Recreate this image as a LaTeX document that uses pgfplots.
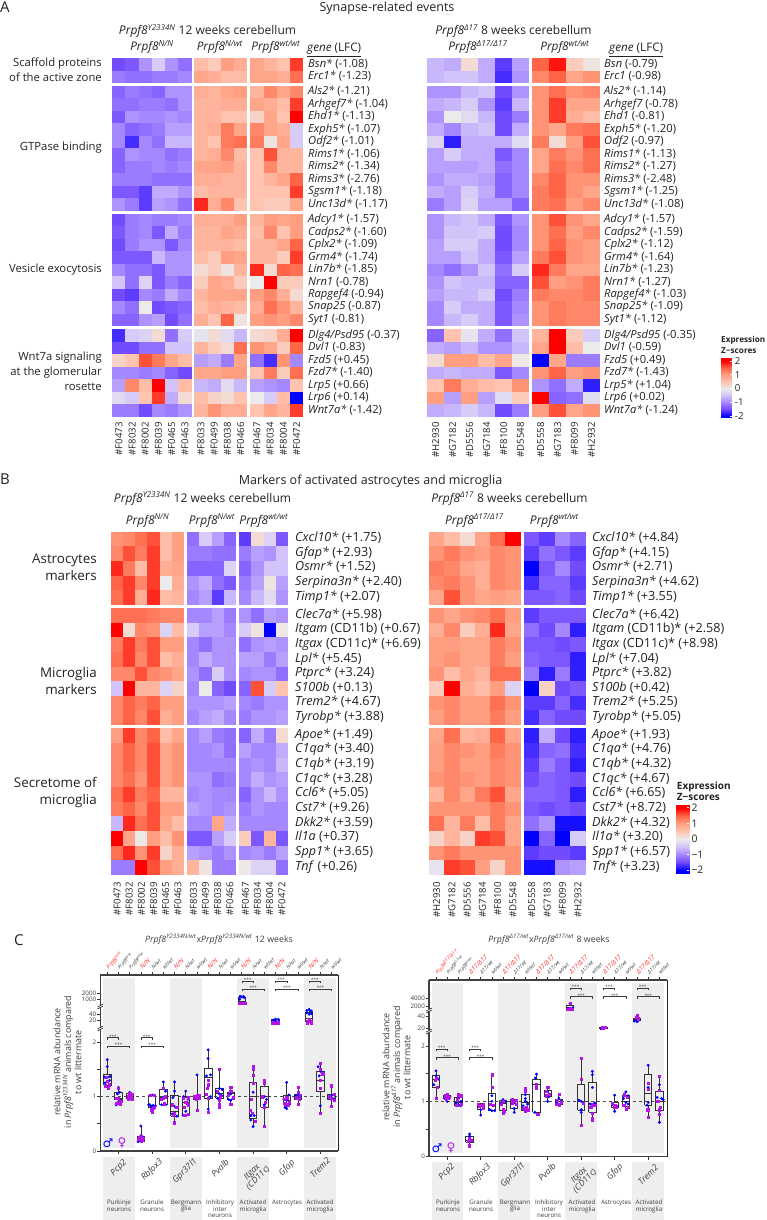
\documentclass[border=0pt]{standalone}
\usepackage{fontspec}
\setmainfont{Open Sans}
\newfontfamily\symfont{DejaVu Sans}
\usepackage{pgfplots}
\usepackage{pgfplotstable}
\pgfplotsset{compat=1.18}

\newcommand\fs[1]{\fontsize{#1}{#1}\selectfont}
\newcommand\Pf[1]{\textit{Prpf8}\textsuperscript{\textit{#1}}}
\definecolor{txt}{HTML}{222222}
\definecolor{ctxt}{HTML}{3C3C3C}
\definecolor{band}{HTML}{EEEEEE}
\definecolor{male}{HTML}{0000FF}
\definecolor{fem}{HTML}{B414E6}
\definecolor{redl}{HTML}{FF2A2A}

\pgfplotsset{colormap={zs}{rgb255=(0,0,255) rgb255=(115,75,255) rgb255=(165,135,255) rgb255=(210,195,250)
  rgb255=(235,235,235) rgb255=(255,195,175) rgb255=(255,158,129) rgb255=(255,100,70) rgb255=(255,0,0)}}

\pgfdeclareplotmark{cell}{\pgfpathrectangle{\pgfqpoint{-5pt}{-5pt}}{\pgfqpoint{10pt}{10pt}}\pgfusepathqfill}
\pgfplotsset{cell/.style={scatter,only marks,mark=cell,point meta=explicit}}

% --- A left, Prpf8 Y2334N 12 weeks
\pgfplotstableread{
gene y s0 s1 s2 s3 s4 s5 s6 s7 s8 s9 s10 s11 s12 s13
Bsn 64.5 -1.5 -1.4 -.9 -.4 -.9 -1.2 .6 .4 1.0 .8 .9 .7 .5 1.7
Erc1 77 -1.1 -1.2 -1.2 -1.1 -1.1 -1.0 .9 .8 .6 .6 .9 .9 .8 1.4
Als2 92.2 -1.3 -1.1 -1.2 -1.3 -.9 -.9 .8 .7 .9 1.0 .7 1.2 .9 1.2
Arhgef7 104.7 -1.2 -1.2 -1.1 -1.1 -1.2 -.9 .7 .7 .8 .8 .9 .8 .6 1.7
Ehd1 117.2 -1.4 -.9 -1.0 -1.0 -.9 -1 .7 .7 .5 .5 .3 .9 .5 2
Exph5 129.6 -1 -1.3 -1.2 -1.1 -.8 -.8 .7 .8 1.3 .9 1.2 .9 .8 -.4
Odf2 142.1 -1 -1.7 -1 -1.2 -.6 -.6 .7 .5 1.3 1.4 1.3 .1 .9 -.4
Rims1 154.6 -1.3 -.9 -1 -1 -1.2 -1.1 .7 .8 1.2 .6 .5 1.6 .7 .7
Rims2 167.1 -1.3 -1.1 -1.1 -1 -1.1 -1 .9 .9 1 .7 .5 1.2 .7 .7
Rims3 179.5 -1.1 -1.1 -1.1 -1.2 -1.2 -1.2 .8 .8 .7 .7 .5 .7 .9 1.5
Sgsm1 192 -1.4 -1.4 -1.6 -.7 -.7 -.9 .6 .7 .7 .7 .5 .5 .5 1.7
Unc13d 204.5 -.9 -1.1 -1.6 -.8 -.9 -1.2 1.8 .8 1.2 .5 .5 .4 .4 .9
Adcy1 220.2 -1.5 -1.1 -1 -1.1 -1.1 -1 .8 .8 .8 1 .7 1 .9 1
Cadps2 232.7 -1.4 -1.1 -1 -1.4 -.7 -1.1 .7 .7 .9 .8 .6 1.2 .5 1
Cplx2 245.1 -1.5 -1.1 -.9 -.9 -1.4 -1 .7 .7 .7 .6 .7 .7 .9 1.5
Grm4 257.5 -1.4 -1.4 -1.4 -.6 -.9 -.9 .6 .4 1 .9 .7 .7 .4 1.7
Lin7b 270 -1 -1.2 -1.2 -1.4 -.9 -.9 .2 .4 .1 .7 1.8 .2 1.5 1.4
Nrn1 282.4 -.5 -1.2 -.3 -1.4 -1.1 -1.3 .4 .9 .8 .4 0 2 .4 .4
Rapgef4 294.9 -1.5 -1.6 -1 -1.1 -.7 -1 .7 .9 .9 .9 1 1.2 .8 .2
Snap25 307.3 -1 -1.2 0 -1.5 -1.4 -1.3 .6 .8 .7 .6 .8 1.4 1.1 .7
Syt1 319.8 -1.3 -1.3 -.9 -.8 -1.5 -1.2 .8 .5 1.5 .1 1 1.1 1 1.2
Dlg4 335.5 -1.7 -.4 -.3 .2 -1.2 -.4 -.1 .2 -.2 -.6 .2 .3 .8 2
Dvl1 348 -1.5 -1.5 -1.2 -1.2 -.5 -.5 .7 .4 .2 1.4 1.1 .9 .4 1.5
Fzd5 360.5 .3 .5 1.6 1.3 .9 .6 -.8 -.7 -1.1 .9 -1.2 -1.7 1.1 -1
Fzd7 373 -1 -1 -1.1 -1 -1.3 -1.5 .9 .9 1 1 .5 1.3 .4 1.4
Lrp5 385.4 -.8 1.2 .6 2 -.5 .6 -.6 -.7 -.2 -.6 -.8 -.9 -1 .5
Lrp6 397.9 -.2 -.4 .5 1.7 -.7 .2 .6 .3 .2 .5 0 -.4 .6 -2
Wnt7a 410.4 -1.1 -1.1 -1.5 -1 -1.1 -.9 .7 1.1 .8 .8 .5 .9 .7 1.7
}\tabAL
% --- A right, Prpf8 d17 8 weeks
\pgfplotstableread{
gene y s0 s1 s2 s3 s4 s5 s6 s7 s8 s9
Bsn 64.5 -.6 -.7 .2 -.7 -1.6 -.8 1.5 1.9 .4 .1
Erc1 77 -.6 -.5 -.5 -.7 -1.7 -.9 1.2 1.5 .9 1.1
Als2 92.2 -.9 -.9 -.6 -.5 -1.5 -.9 1.1 1.4 1.1 1.2
Arhgef7 104.7 -.7 -.6 -.4 -.9 -1.6 -.6 1.1 1.7 .9 .9
Ehd1 117.2 -.9 0 -.2 -.6 -1.5 -1.1 1.1 1.7 .8 .6
Exph5 129.6 -.7 -1 -.6 -.5 -1.5 -.7 1.1 .9 1.3 1.4
Odf2 142.1 -.3 -1.8 -.7 -.7 -.7 -.2 1.3 .2 1 1.6
Rims1 154.6 -.8 -.4 -.7 -.7 -1.4 -1 .9 1.3 1.1 1.4
Rims2 167.1 -.8 -.8 -.8 -.7 -1.2 -1 .9 1.4 1.2 1.4
Rims3 179.5 -.9 -.7 -.7 -.8 -1.3 -1 1.2 1.5 1.1 1.1
Sgsm1 192 -.7 -.8 -.4 -.7 -1.3 -1 1.3 1.5 1.1 .9
Unc13d 204.5 -1.1 -.8 -.3 -.8 -.8 -1.3 1.3 1.4 1 1.2
Adcy1 220.2 -.9 -.6 -.5 -.7 -1.4 -.9 1.1 1.6 1.1 .9
Cadps2 232.7 -.9 -.5 -.5 -.4 -1.5 -1 1.1 1.4 1 1.2
Cplx2 245.1 -.8 -.4 -.4 -.7 -1.5 -1 1.1 1.5 1.1 1
Grm4 257.5 -.8 -.8 -.5 -.7 -1.4 -.8 1.3 1.6 1.1 1
Lin7b 270 -1 -1.2 -.9 -.5 -1.2 -.4 1.8 1.3 .9 .9
Nrn1 282.4 -.9 -.5 -.6 -.6 -1.3 -1.3 1.6 1 1.1 1.3
Rapgef4 294.9 -.8 -.6 -.6 -.4 -1.5 -1.1 1.3 1.2 1.2 1.3
Snap25 307.3 -1 -.4 -.7 -.7 -1.4 -1 1.1 1.3 1.2 1.2
Syt1 319.8 -1 -.6 -.4 -.7 -1.4 -.9 1.1 1.3 1.2 1.2
Dlg4 335.5 -1.3 .5 -.1 -.7 -1.2 -.5 .7 2 .4 -.4
Dvl1 348 -.7 -.8 -.6 -.9 -.9 -.6 .9 2 .6 0
Fzd5 360.5 .2 1 1 .6 .9 .05 -2 .9 -1.1 -1.1
Fzd7 373 -.7 -.6 -.7 -.7 -1.4 -1 1.1 1.5 1 1.1
Lrp5 385.4 .5 1.3 .8 .6 .5 1.1 -.9 -1.2 -.7 -1.8
Lrp6 397.9 1 -.8 1 -.8 -.2 .4 2 -1.3 -1.2 -.2
Wnt7a 410.4 -.7 -.6 -.4 -.6 -1.5 -1.1 1 1.6 .9 1.1
}\tabAR
% --- B left
\pgfplotstableread{
gene y s0 s1 s2 s3 s4 s5 s6 s7 s8 s9 s10 s11 s12 s13
Cxcl10 539 1.1 1.2 1.4 1.6 .6 1 -1.2 -.4 -.8 -1.3 -1.6 .2 -.3 -1.4
Gfap 553.7 1.2 1.6 1.3 1.7 .6 1 -1.1 -1.1 -1.2 -1.2 -1.1 -.8 -.9 -.5
Osmr 568.3 1.8 1.3 .6 1.7 .8 .9 -1.3 -1.3 -1.3 -.3 -1.3 -.9 -.5 -.5
Serpina3n 583 1.5 1.7 1.2 1.7 0 .8 -.9 -.7 -1.2 -1.4 -1.1 -.8 .1 -.8
Timp1 597.7 1.4 1.7 .8 1.8 .6 .7 -1 -.8 -1.6 -.6 -1 -.6 -.2 -.9
Clec7a 615.6 1.4 1.4 1.4 1.3 1.2 1.2 -1 -1 -.8 -1.1 -.9 -1.2 -.8 -.9
Itgam 630.2 2 .2 1.2 1.1 -.3 .6 -.4 -.8 -.8 -1 -.4 .1 -2 .05
Itgax 644.8 1.3 1.7 1.3 1.6 1 1 -1 -1.2 -.9 -.9 -1.2 -.9 -.8 -.9
Lpl 659.4 1.4 1.7 1.2 1.6 .6 .8 -1 -.7 -.9 -.9 -.8 -.8 -1.1 -.8
Ptprc 674 1.2 1.2 1.6 1.2 1.1 .9 -.9 -1.2 -.4 -.9 -1 -.9 -.9 -1.2
S100b 688.6 -.5 2 .7 .7 -.3 .3 -1 0 -1.3 -1.5 -1.3 1.6 -.4 .5
Trem2 703.2 1.2 1.5 1.3 1.5 1 1 -.9 -.9 -.9 -.8 -1 -1.1 -.9 -.9
Tyrobp 717.8 1.2 1.5 1.2 1.6 .8 1 -1 -.8 -.7 -1 -1.1 -.9 -.9 -.8
Apoe 735.6 1 1.7 1.2 1.5 .6 .9 -1 -.8 -1.1 -1.2 -1.3 -.7 -1.1 .2
C1qa 750.3 1.2 1.5 1.2 1.6 .9 1.1 -1 -1 -.9 -1.2 -.8 -1 -1 -.7
C1qb 765 1.2 1.5 1.2 1.6 .9 1.1 -1 -1 -1 -1 -1 -.9 -1 -.6
C1qc 779.7 1.2 1.4 1.1 1.6 .9 1.1 -.9 -.9 -1.2 -1.1 -1 -.7 -.9 -.8
Ccl6 794.3 1.4 1.7 1.3 1.5 .7 .7 -1 -.9 -1 -1 -1.3 -.9 -.6 -.9
Cst7 809 1.3 1.5 1.2 1.6 1 1 -.8 -.9 -1 -.9 -1.1 -.9 -1 -1
Dkk2 823.7 -.6 1.8 1.4 1.6 .9 .6 -1 -1 .9 -.7 -1 -1 -1 -1
Il1a 838.3 2 .9 .05 1 .6 1.1 -1.4 -1.4 -.8 -.4 .4 -1.4 .7 -1.4
Spp1 853 1.4 1.8 1.1 1.7 .3 .8 -.8 -.9 -1.1 -.9 -1 -.9 -1.1 -.8
Tnf 867.7 -1.1 -1.1 2 1.6 1 .8 .7 .1 -1.1 -1.1 .05 -.3 -.3 -1.2
}\tabBL
% --- B right
\pgfplotstableread{
gene y s0 s1 s2 s3 s4 s5 s6 s7 s8 s9
Cxcl10 539 .9 .6 .2 .9 1.4 2 -1.4 -1.6 -1 -1.3
Gfap 553.7 1.1 1.3 1.1 1 1.2 1.1 -1.6 -1.2 -1.4 -1.6
Osmr 568.3 1.3 1.2 .9 .8 1.2 1.1 -2 -1.4 -1 -1.5
Serpina3n 583 1.2 1.3 1.1 .8 1.2 1.1 -1.7 -1.3 -1.3 -1.6
Timp1 597.7 .9 1.6 1.1 .9 1 .9 -1.4 -1.4 -1.3 -1.5
Clec7a 615.6 1.1 .9 1.1 1.2 1.4 1 -1.6 -1.4 -1.4 -1.4
Itgam 630.2 .8 1.2 .4 .8 1.8 .9 -1.2 -1.5 -1 -1.8
Itgax 644.8 1 1 .9 .9 1.3 1.1 -1.4 -1.4 -1.5 -1.4
Lpl 659.4 1 1.1 .9 .9 1.3 1 -1.3 -1.4 -1.4 -1.8
Ptprc 674 1.1 .6 .9 .7 1.4 1.4 -1.1 -1.8 -1.1 -1.8
S100b 688.6 .4 2 .8 .6 1 -.3 -2 .3 -1.5 -1.4
Trem2 703.2 1.1 1.2 1 1 1.4 1.1 -1.6 -1.6 -1.3 -1.7
Tyrobp 717.8 1 1.2 1 1 1.3 1 -1.7 -1.3 -1.5 -1.5
Apoe 735.6 .9 1.4 .7 .8 1.5 .9 -1.8 -.7 -1.5 -1.8
C1qa 750.3 1 1.2 1.1 1 1.3 1.1 -1.7 -1.3 -1.2 -1.7
C1qb 765 1 1.2 1 1 1.2 1.1 -1.6 -1.1 -1.4 -1.8
C1qc 779.7 1.1 1.2 1.1 1 1.2 1.1 -1.5 -1.3 -1.4 -1.5
Ccl6 794.3 .7 1.2 .9 1.3 1.6 .9 -1.3 -1.3 -1.4 -1.8
Cst7 809 1.1 1.1 1.1 1.1 1.3 1.1 -1.4 -1.5 -1.4 -1.5
Dkk2 823.7 1.4 .7 1.3 .6 1.3 .9 -1.2 -.9 -1.9 -1.9
Il1a 838.3 .3 .7 .3 1.7 1.6 .9 -2 -1.3 -2 -.4
Spp1 853 1.1 1.3 1.1 1.1 1.1 1.1 -1.6 -1.5 -1.5 -1.6
Tnf 867.7 -.1 1.7 1.6 1 .3 1.1 -1.9 -1.9 -.9 -.8
}\tabBR

% one heat block: table, first sample, last sample, left x, cell w, cell h
\newcommand\hblock[6]{\pgfplotsinvokeforeach{#2,...,#3}{%
  \addplot[cell,mark options={xscale=#5/10+.008,yscale=#6/10+.008}]
    table[x expr={#4+#5*(##1-#2+.5)},y=y,meta=s##1] {#1};}}

\newcommand\samples[4]{\foreach \t [count=\i from 0] in {#4}{%
  \node[rotate=90,anchor=east,inner sep=0,text=txt,font=\fs{9.6}] at ({#1+#2*(\i+.5)},#3) {\t};}}
\newcommand\genes[3][11.2]{\foreach \yy/\t in {#3}{%
  \node[anchor=mid west,inner sep=0,text=txt,font=\fs{#1}] at (#2,\yy) {\t};}}
\newcommand\T[4][]{\node[inner sep=0,text=txt,anchor=base,#1] at (#2,#3) {#4};}
\newcommand\R[4][11.3]{\node[inner sep=0,text=txt,anchor=mid east,font=\fs{#1}] at (#2,#3) {#4};}
\newcommand\brk[5]{\draw[line width=.5pt,color=ctxt] ({#1+#2*#3},#5+2)--({#1+#2*#3},#5)--({#1+#2*#4},#5)--({#1+#2*#4},#5+2);
  \node[inner sep=0,text=ctxt,font=\fs{4.5}] at ({#1+#2*(#3+#4)/2},#5-1.3) {***};}
\newcommand\Ctop[7]{\foreach \i in {#5}{%
  \node[rotate=45,anchor=west,inner sep=0,text=redl,font=\fs{6.4}] at ({#1+#2*\i},#3) {\textit{#4}};
  \node[rotate=45,anchor=west,inner sep=0,text=ctxt,font=\fs{5.2}] at ({#1+#2*(\i+1)},#3) {\textit{#6}};
  \node[rotate=45,anchor=west,inner sep=0,text=ctxt,font=\fs{5.2}] at ({#1+#2*(\i+2)},#3) {\textit{#7}};}}

% box with whiskers: position, low whisker, lower quartile, median, upper quartile, high whisker
\newcommand\bx[6]{\pgfmathsetmacro\xl{#1-.33}\pgfmathsetmacro\xr{#1+.33}%
  \edef\tmp{\noexpand\addplot[bxl] coordinates {(\xl,#3)(\xr,#3)(\xr,#5)(\xl,#5)(\xl,#3)};
    \noexpand\addplot[bxl] coordinates {(\xl,#4)(\xr,#4)};
    \noexpand\addplot[bxl] coordinates {(#1,#2)(#1,#3)};
    \noexpand\addplot[bxl] coordinates {(#1,#5)(#1,#6)};}\tmp}

\pgfplotsset{
  bxl/.style={color=black!80,line width=.8pt,solid,no marks},
  mm/.style={only marks,mark=*,mark size=1.25pt,color=male},
  ff/.style={only marks,mark=square*,mark size=1.1pt,color=fem},
  cax/.style={scale only axis,anchor=south west,clip=false,axis y line*=left,
     axis line style={line width=1.3pt,color=black!75},tick align=outside,
     major tick length=3pt,minor tick length=0pt,
     tick style={line width=.7pt,color=black!80},
     yticklabel style={font=\fs{6.2},text=ctxt,inner sep=1pt},
     xticklabels={},scaled y ticks=false},
  cbar/.style={scale only axis,anchor=south west,view={0}{90},xmin=0,xmax=1,xtick=\empty,
     ytick={-2,-1,0,1,2},tick pos=right,yticklabel pos=right,tick align=inside,
     ytick style={white,line width=.7pt,draw=white},major tick length=2.5pt,
     axis line style={draw=none},axis on top,colormap name=zs,point meta min=-2,point meta max=2,
     point meta=y,yticklabel style={font=\fs{9.6},text=txt,inner sep=1pt,xshift=1pt}},
}

\begin{document}
\begin{tikzpicture}
\path[use as bounding box] (0,0) rectangle (767pt,-1220pt);

% grey bands of panel C
\begin{scope}[x=1pt,y=-1pt]
\foreach \a/\b in {102.7/135,170/201.7,237/268.7,304/335.7}{
  \fill[band] (\a,977.7) rectangle (\b,1148.3);
  \fill[band] (\a,1157.3) rectangle (\b,1220);}
\foreach \a/\b in {431.7/463.3,497.7/530,565/596.7,632/664}{
  \fill[band] (\a,982.7) rectangle (\b,1153.3);
  \fill[band] (\a,1162.3) rectangle (\b,1220);}
\end{scope}

% heatmaps, in picture pixels
\begin{axis}[at={(0pt,-1220pt)},anchor=south west,scale only axis,width=767pt,height=1220pt,
  xmin=0,xmax=767,ymin=0,ymax=1220,y dir=reverse,hide axis,clip=false,
  colormap name=zs,point meta min=-2,point meta max=2]
\hblock{\tabAL}{0}{5}{112.3}{13.2}{12.47}
\hblock{\tabAL}{6}{9}{194.3}{13.25}{12.47}
\hblock{\tabAL}{10}{13}{250.3}{13.25}{12.47}
\hblock{\tabAR}{0}{5}{427.3}{16.95}{12.47}
\hblock{\tabAR}{6}{9}{532.3}{16.9}{12.47}
\hblock{\tabBL}{0}{5}{111}{12.17}{14.65}
\hblock{\tabBL}{6}{9}{187.3}{12.17}{14.65}
\hblock{\tabBL}{10}{13}{239.3}{12.17}{14.65}
\hblock{\tabBR}{0}{5}{429}{15.28}{14.65}
\hblock{\tabBR}{6}{9}{524}{15.4}{14.65}
\end{axis}

\begin{scope}[x=1pt,y=-1pt]
% white lines between the blocks
\fill[white] (100,83.4) rectangle (610,86); \fill[white] (100,210.8) rectangle (610,214); \fill[white] (100,326.1) rectangle (610,329.3);
\fill[white] (100,605.1) rectangle (600,608.3); \fill[white] (100,725.1) rectangle (600,728.3);
\fill[white] (191.7,50) rectangle (194.3,420); \fill[white] (247.4,50) rectangle (250.3,420); \fill[white] (529.1,50) rectangle (532.3,420);
\fill[white] (184.1,525) rectangle (187.3,880); \fill[white] (236.1,525) rectangle (239.3,880); \fill[white] (520.7,525) rectangle (524,880);

% panel titles
\T[font=\fs{15},anchor=base west]{0}{13}{A}
\T[font=\fs{15},anchor=base west]{0}{484}{B}
\T[font=\fs{15},anchor=base west]{14}{945}{C}
\T[font=\fs{12.5}]{387}{12}{Synapse-related events}
\T[font=\fs{12.5}]{370.5}{484}{Markers of activated astrocytes and microglia}

% panel A headers
\T[font=\fs{12}]{207.5}{35}{\Pf{Y2334N} 12 weeks cerebellum}
\T[font=\fs{11.8}]{152}{51}{\Pf{N/N}}
\T[font=\fs{11.8}]{220}{51}{\Pf{N/wt}}
\T[font=\fs{11.8}]{276}{51}{\Pf{wt/wt}}
\T[font=\fs{11.7},anchor=base west]{307}{52}{\underline{\textit{gene} (LFC)}}
\T[font=\fs{12}]{513.5}{35}{\Pf{Δ17} 8 weeks cerebellum}
\T[font=\fs{11.8}]{478}{51}{\Pf{Δ17/Δ17}}
\T[font=\fs{11.8}]{565}{51}{\Pf{wt/wt}}
\T[font=\fs{11.7},anchor=base west]{609}{52}{\underline{\textit{gene} (LFC)}}

\R{102}{64}{Scaffold proteins}
\R{102}{79}{of the active zone}
\R{102}{148}{GTPase binding}
\R{102}{270}{Vesicle exocytosis}
\R{102}{358}{Wnt7a signaling}
\R{102}{373}{at the glomerular}
\R{102}{388}{rosette}

\genes{308}{64.5/{\textit{Bsn*} (-1.08)},77/{\textit{Erc1*} (-1.23)},92.2/{\textit{Als2*} (-1.21)},104.7/{\textit{Arhgef7*} (-1.04)},117.2/{\textit{Ehd1*} (-1.13)},129.6/{\textit{Exph5*} (-1.07)},142.1/{\textit{Odf2*} (-1.01)},154.6/{\textit{Rims1*} (-1.06)},167.1/{\textit{Rims2*} (-1.34)},179.5/{\textit{Rims3*} (-2.76)},192/{\textit{Sgsm1*} (-1.18)},204.5/{\textit{Unc13d*} (-1.17)},220.2/{\textit{Adcy1*} (-1.57)},232.7/{\textit{Cadps2*} (-1.60)},245.1/{\textit{Cplx2*} (-1.09)},257.5/{\textit{Grm4*} (-1.74)},270/{\textit{Lin7b*} (-1.85)},282.4/{\textit{Nrn1} (-0.78)},294.9/{\textit{Rapgef4} (-0.94)},307.3/{\textit{Snap25} (-0.87)},319.8/{\textit{Syt1} (-0.81)},335.5/{\textit{Dlg4/Psd95} (-0.37)},348/{\textit{Dvl1} (-0.83)},360.5/{\textit{Fzd5} (+0.45)},373/{\textit{Fzd7*} (-1.40)},385.4/{\textit{Lrp5} (+0.66)},397.9/{\textit{Lrp6} (+0.14)},410.4/{\textit{Wnt7a*} (-1.42)}}
\genes{604}{64.5/{\textit{Bsn} (-0.79)},77/{\textit{Erc1} (-0.98)},92.2/{\textit{Als2*} (-1.14)},104.7/{\textit{Arhgef7} (-0.78)},117.2/{\textit{Ehd1} (-0.81)},129.6/{\textit{Exph5*} (-1.20)},142.1/{\textit{Odf2} (-0.97)},154.6/{\textit{Rims1*} (-1.13)},167.1/{\textit{Rims2*} (-1.27)},179.5/{\textit{Rims3*} (-2.48)},192/{\textit{Sgsm1*} (-1.25)},204.5/{\textit{Unc13d*} (-1.08)},220.2/{\textit{Adcy1*} (-1.57)},232.7/{\textit{Cadps2*} (-1.59)},245.1/{\textit{Cplx2*} (-1.12)},257.5/{\textit{Grm4*} (-1.64)},270/{\textit{Lin7b*} (-1.23)},282.4/{\textit{Nrn1*} (-1.27)},294.9/{\textit{Rapgef4*} (-1.03)},307.3/{\textit{Snap25*} (-1.09)},319.8/{\textit{Syt1*} (-1.12)},335.5/{\textit{Dlg4/Psd95} (-0.35)},348/{\textit{Dvl1} (-0.59)},360.5/{\textit{Fzd5} (+0.49)},373/{\textit{Fzd7*} (-1.43)},385.4/{\textit{Lrp5*} (+1.04)},397.9/{\textit{Lrp6} (+0.02)},410.4/{\textit{Wnt7a*} (-1.24)}}

\samples{112.3}{13.2}{422}{\#F0473,\#F8032,\#F8002,\#F8039,\#F0465,\#F0463}
\samples{194.3}{13.25}{422}{\#F8033,\#F0499,\#F8038,\#F0466}
\samples{250.3}{13.25}{422}{\#F0467,\#F8034,\#F8004,\#F0472}
\samples{427.3}{16.95}{422}{\#H2930,\#G7182,\#D5556,\#G7184,\#F8100,\#D5548}
\samples{532.3}{16.9}{422}{\#D5558,\#G7183,\#F8099,\#H2932}

% panel B headers
\T[font=\fs{12}]{202.5}{502}{\Pf{Y2334N} 12 weeks cerebellum}
\T[font=\fs{12}]{147.5}{524}{\Pf{N/N}}
\T[font=\fs{12}]{212}{524}{\Pf{N/wt}}
\T[font=\fs{12}]{264}{524}{\Pf{wt/wt}}
\T[font=\fs{12}]{509.5}{502}{\Pf{Δ17} 8 weeks cerebellum}
\T[font=\fs{12}]{474.5}{524}{\Pf{Δ17/Δ17}}
\T[font=\fs{12}]{554.5}{524}{\Pf{wt/wt}}

\R[13.4]{97}{561}{Astrocytes}
\R[13.4]{97}{578}{markers}
\R[13.4]{97}{675}{Microglia}
\R[13.4]{97}{692}{markers}
\R[13.4]{97}{785}{Secretome of}
\R[13.4]{97}{802}{microglia}

\genes[12.6]{295}{539/{\textit{Cxcl10*} (+1.75)},553.7/{\textit{Gfap*} (+2.93)},568.3/{\textit{Osmr*} (+1.52)},583/{\textit{Serpina3n*} (+2.40)},597.7/{\textit{Timp1*} (+2.07)},615.6/{\textit{Clec7a*} (+5.98)},630.2/{\textit{Itgam} (CD11b) (+0.67)},644.8/{\textit{Itgax} (CD11c)* (+6.69)},659.4/{\textit{Lpl*} (+5.45)},674/{\textit{Ptprc*} (+3.24)},688.6/{\textit{S100b} (+0.13)},703.2/{\textit{Trem2*} (+4.67)},717.8/{\textit{Tyrobp*} (+3.88)},735.6/{\textit{Apoe*} (+1.49)},750.3/{\textit{C1qa*} (+3.40)},765/{\textit{C1qb*} (+3.19)},779.7/{\textit{C1qc*} (+3.28)},794.3/{\textit{Ccl6*} (+5.05)},809/{\textit{Cst7*} (+9.26)},823.7/{\textit{Dkk2*} (+3.59)},838.3/{\textit{Il1a} (+0.37)},853/{\textit{Spp1*} (+3.65)},867.7/{\textit{Tnf} (+0.26)}}
\genes[12.6]{592}{539/{\textit{Cxcl10*} (+4.84)},553.7/{\textit{Gfap*} (+4.15)},568.3/{\textit{Osmr*} (+2.71)},583/{\textit{Serpina3n*} (+4.62)},597.7/{\textit{Timp1*} (+3.55)},615.6/{\textit{Clec7a*} (+6.42)},630.2/{\textit{Itgam} (CD11b)* (+2.58)},644.8/{\textit{Itgax} (CD11c)* (+8.98)},659.4/{\textit{Lpl*} (+7.04)},674/{\textit{Ptprc*} (+3.82)},688.6/{\textit{S100b} (+0.42)},703.2/{\textit{Trem2*} (+5.25)},717.8/{\textit{Tyrobp*} (+5.05)},735.6/{\textit{Apoe*} (+1.93)},750.3/{\textit{C1qa*} (+4.76)},765/{\textit{C1qb*} (+4.32)},779.7/{\textit{C1qc*} (+4.67)},794.3/{\textit{Ccl6*} (+6.65)},809/{\textit{Cst7*} (+8.72)},823.7/{\textit{Dkk2*} (+4.32)},838.3/{\textit{Il1a*} (+3.20)},853/{\textit{Spp1*} (+6.57)},867.7/{\textit{Tnf*} (+3.23)}}

\samples{111}{12.17}{882}{\#F0473,\#F8032,\#F8002,\#F8039,\#F0465,\#F0463}
\samples{187.3}{12.17}{882}{\#F8033,\#F0499,\#F8038,\#F0466}
\samples{239.3}{12.17}{882}{\#F0467,\#F8034,\#F8004,\#F0472}
\samples{429}{15.28}{882}{\#H2930,\#G7182,\#D5556,\#G7184,\#F8100,\#D5548}
\samples{524}{15.4}{882}{\#D5558,\#G7183,\#F8099,\#H2932}

% colour bar captions
\T[font=\fs{8.2}\bfseries,anchor=base west]{721}{342}{Expression}
\T[font=\fs{8.2}\bfseries,anchor=base west]{721}{353}{Z−scores}
\T[font=\fs{10}\bfseries,anchor=base west]{676.7}{789}{Expression}
\T[font=\fs{10}\bfseries,anchor=base west]{676.7}{800}{Z−scores}
\end{scope}

% colour bars
\begin{axis}[cbar,at={(721pt,-417.7pt)},width=11.7pt,height=60pt,ymin=-2.12,ymax=2.24,
  yticklabels={-2,-1,0,1,2}]
\addplot3[surf,shader=interp,mesh/cols=2] coordinates {(0,-2.12,0)(1,-2.12,0)(0,-2,0)(1,-2,0)(0,2,0)(1,2,0)(0,2.24,0)(1,2.24,0)};
\end{axis}
\begin{axis}[cbar,at={(675.7pt,-873.3pt)},width=13.6pt,height=68.3pt,ymin=-2.2,ymax=2.18,
  yticklabels={−2,−1,0,1,2},yticklabel style={font=\fs{10.4}}]
\addplot3[surf,shader=interp,mesh/cols=2] coordinates {(0,-2.2,0)(1,-2.2,0)(0,-2,0)(1,-2,0)(0,2,0)(1,2,0)(0,2.18,0)(1,2.18,0)};
\end{axis}

% ---------- panel C left ----------
\begin{axis}[cax,at={(100.3pt,-1151pt)},width=238pt,height=121pt,xmin=-.62,xmax=20.6,ymin=0,ymax=2.224,
  axis x line*=bottom,xtick={1,4,7,10,13,16,19},ytick={0,.5,1,1.5,2},yticklabels={0,,1,,2}]
\addplot[dashed,color=black!70,line width=.7pt] coordinates {(-.62,1)(20.6,1)};
\bx{0}{1.15}{1.21}{1.37}{1.41}{1.68}
\bx{1}{.85}{.94}{.97}{1.08}{1.18}
\bx{2}{.93}{.97}{1.0}{1.06}{1.08}
\bx{3}{.17}{.18}{.22}{.27}{.46}
\bx{4}{.72}{.8}{.84}{1.03}{1.03}
\bx{5}{.85}{.85}{.98}{1.13}{1.27}
\bx{6}{.52}{.64}{.72}{1.02}{1.27}
\bx{7}{.66}{.66}{.9}{.99}{1.1}
\bx{8}{.75}{.94}{1.0}{1.03}{1.4}
\bx{9}{.72}{.97}{1.35}{1.52}{1.86}
\bx{10}{.81}{.97}{1.05}{1.15}{1.51}
\bx{11}{.86}{.94}{1.05}{1.08}{1.18}
\bx{13}{.46}{.6}{1.0}{1.27}{1.55}
\bx{14}{.45}{.8}{1.0}{1.19}{1.3}
\bx{16}{.77}{.85}{.93}{1.03}{1.26}
\bx{17}{.86}{.94}{1.0}{1.04}{1.17}
\bx{19}{.7}{1.09}{1.3}{1.47}{1.61}
\bx{20}{.83}{.94}{.97}{1.04}{1.21}
\addplot[mm] coordinates {(0,1.68)(0,1.55)(.25,1.37)(-.25,1.36)(0,1.35)(.2,1.3)(-.2,1.25)
 (1,1.17)(1.1,1.08)(.9,1.05)(1,.95)(.8,.85)(1.2,.87)
 (2,1.08)(2.2,1.03)(1.85,.97)(2,.95)
 (3,.46)(3,.28)(3.2,.25)(2.8,.2)(3,.18)(2.75,.17)(3.25,.22)
 (4,1.03)(3.8,.85)(4.1,.84)(4.3,.83)(3.9,.82)(4,.8)(4.2,.78)(3.7,.85)
 (5,1.27)(5.2,1.1)(5,.98)(4.85,.85)(5.2,.85)
 (6,1.27)(6,1.1)(5.85,.98)(5.8,.68)(6.2,.64)(6,.82)
 (7,1.1)(6.8,1.0)(7.2,.95)(7,.73)(6.75,.66)(7.1,.87)
 (8,1.4)(7.8,1.0)(8.2,.97)
 (9,1.86)(9,1.7)(9.2,1.4)(8.85,1.38)(9,.77)(9.2,1.0)
 (10,1.15)(10.25,1.13)(9.75,1.1)(10,1.05)(10.2,1.02)(9.85,.97)(10,.95)
 (11,1.05)(11.2,.97)(10.8,.95)(11,.93)
 (13,1.08)(12.8,.65)(13.1,.65)(12.8,.57)(13,.45)
 (14,1.0)(14.2,.95)(14,.85)
 (16,1.26)(16.2,1.03)(15.75,.95)(16,.93)(16.2,.85)(15.85,.8)(16,.78)
 (17,1.03)(16.8,1.01)(17.2,1)(17,.97)
 (19,1.6)(18.8,1.55)(19.1,1.45)(19.2,1.42)(18.9,1.38)(19,.83)
 (20,1.02)(19.8,.98)(20.2,.96)(20,.95)};
\addplot[ff] coordinates {(-.2,1.2)(.2,1.22)(0,1.28)(-.1,1.35)(.05,1.15)
 (1,1.15)(.8,.97)(1.2,.92)(1,.9)(.85,.88)(1.15,.87)(1,.97)
 (2,1.06)(2.2,1.04)(1.85,1.0)(2.1,.98)(1.9,.96)(2.2,.95)(2,1.02)
 (3,.27)(3.2,.24)(2.8,.22)(3.1,.2)(2.9,.26)(3,.18)
 (3.8,1.03)(4.2,1.02)(4.1,.78)(3.9,.76)(4,.74)(4,.72)(4.2,.8)
 (5,1.15)(5.2,1.0)(4.8,.95)(5.1,.87)(5,.97)
 (5.8,.85)(6.2,.8)(6,.7)(5.9,.66)(6,.52)
 (7.2,.98)(6.8,.97)(7,.9)(7.2,.85)(6.85,.8)(7.2,.68)(6.9,.66)
 (8.2,1.02)(7.8,1.0)(8,.98)(8.2,.97)(7.9,.95)(8,.75)(8,1.03)
 (9,1.3)(9,1.22)(8.9,1.15)(9,.97)(9,.72)(8.8,1.05)
 (10,1.5)(9.8,1.1)(10.1,1.0)(10,.93)(10,.85)(10,.81)
 (11,1.18)(11,1.1)(10.8,1.02)(11.2,.98)(11,.86)
 (13,1.55)(13,1.5)(13,1.4)(13,1.25)(12.8,.95)(12.75,.75)(12.9,.7)(13.2,.55)
 (14,1.3)(14,1.25)(13.8,1.0)(14.1,.9)(14,.8)(14,.45)
 (16,.98)(15.8,.95)(16.2,.9)(15.9,.87)(16.1,.85)(15.75,.88)
 (17,1.17)(17,1.08)(17.2,1.02)(16.85,.98)(17.1,.95)(17,.86)
 (19,1.61)(19,1.5)(19,1.3)(19,1.15)(19,.7)(19.2,1.42)
 (20,1.2)(20.2,1.04)(19.8,1.0)(20,.97)(20,.83)(20.2,.93)};
\end{axis}
\begin{axis}[cax,at={(100.3pt,-1027pt)},width=238pt,height=20pt,xmin=-.62,xmax=20.6,ymin=.3,ymax=62.8,
  axis x line=none,ytick={20,40},yticklabels={20,40}]
\bx{15}{12}{12}{17}{23}{25}
\bx{18}{14}{18}{28}{45}{60}
\addplot[mm] coordinates {(15,25)(15.25,24)(14.8,22)(15,21)(18,55)(17.8,52)(18.2,50)(17.8,45)(18.2,42)(18,40)};
\addplot[ff] coordinates {(14.8,15)(15.2,14)(15,13)(14.75,12)(15.25,12)(18,25)(17.8,18)(18.2,17)(17.8,14)(18.2,14)(18,20)};
\end{axis}
\begin{axis}[cax,at={(100.3pt,-1005pt)},width=238pt,height=30pt,xmin=-.62,xmax=20.6,ymin=50,ymax=5050,
  axis x line*=top,xtick={0,...,20},ytick={1000,2000},yticklabels={1000,2000}]
\bx{12}{300}{300}{600}{1400}{1500}
\addplot[mm] coordinates {(11.85,1500)(12.15,1500)(12,1400)(12.2,1300)(11.8,1000)};
\addplot[ff] coordinates {(11.75,400)(12,300)(12.25,350)(11.9,300)(12.15,300)(11.8,300)};
\end{axis}

% ---------- panel C right ----------
\begin{axis}[cax,at={(429pt,-1156.7pt)},width=238.3pt,height=123.7pt,xmin=-.63,xmax=20.71,ymin=0,ymax=2.233,
  axis x line*=bottom,xtick={1,4,7,10,13,16,19},ytick={0,.5,1,1.5,2},yticklabels={0,,1,,2}]
\addplot[dashed,color=black!70,line width=.7pt] coordinates {(-.63,1)(20.71,1)};
\bx{0}{1.05}{1.25}{1.39}{1.46}{1.55}
\bx{1}{1.0}{1.05}{1.08}{1.11}{1.13}
\bx{2}{.9}{.92}{.98}{1.07}{1.13}
\bx{3}{.2}{.26}{.3}{.36}{.41}
\bx{4}{.75}{.86}{.93}{.96}{.96}
\bx{5}{.83}{.83}{.95}{1.14}{1.48}
\bx{6}{.78}{.83}{.97}{1.02}{1.03}
\bx{7}{.8}{.87}{.97}{1.03}{1.03}
\bx{8}{.83}{.83}{.98}{1.13}{1.23}
\bx{9}{.77}{.8}{1.31}{1.4}{1.49}
\bx{10}{1.0}{1.08}{1.12}{1.19}{1.25}
\bx{11}{.94}{.94}{1.0}{1.03}{1.14}
\bx{13}{.57}{.84}{.99}{1.3}{1.78}
\bx{14}{.66}{.8}{.96}{1.34}{1.54}
\bx{16}{.82}{.89}{.93}{.98}{1.11}
\bx{17}{.86}{.9}{.99}{1.1}{1.17}
\bx{19}{.72}{.93}{1.14}{1.49}{1.65}
\bx{20}{.62}{.83}{1.0}{1.17}{1.45}
\addplot[mm] coordinates {(0,1.55)(0,1.46)(.2,1.4)(-.2,1.3)
 (1,1.1)(1.25,1.08)(.8,1.05)(1,1.0)
 (2,1.05)(2.25,1.0)(1.8,.97)(2,.94)(2.2,.92)
 (3,.41)(3,.37)(3.2,.3)
 (4,.85)(4,.75)(4.2,.9)
 (5,1.1)(5,1.0)(4.8,.85)(5.25,.83)(5,.83)
 (6,1.03)(6.2,1.0)(5.8,.97)
 (7,1)(7,.87)(7,.8)
 (8,1.0)(8.2,.95)(7.8,.92)(8,1.12)(8,1.05)
 (9,1.49)(8.9,1.42)(8.85,.8)
 (10,1.17)(10.2,1.12)(10.1,1.08)(10,1.0)
 (11,1.06)(11.2,1)(10.8,.98)(11,.95)
 (13,1.0)(13,.85)(13,.8)(12.8,1.02)
 (14,1.54)(14,1.48)(14,1.25)(14.2,.97)(13.8,.95)
 (16,1.11)(15.8,.95)(16.2,.9)(16,.82)
 (17,1.17)(17.2,1.1)(16.8,1.05)(17,.98)(17.2,.95)
 (19,1.65)(19,1.25)(19,.98)(18.9,.93)
 (20,1.3)(19.8,1.07)(20.2,1.05)(20,.83)(20,.62)(20.35,1.03)};
\addplot[ff] coordinates {(0,1.42)(-.1,1.38)(0,1.05)(.1,1.25)
 (1,1.12)(.8,1.1)(1.2,1.08)(1.1,1.06)(.9,1.04)
 (2,1.12)(2.2,1.1)(1.9,1.03)(2.25,.95)(1.85,.93)
 (3,.34)(2.85,.28)(3,.2)(3.15,.3)
 (3.8,.95)(4.2,.94)(4.05,.93)(3.9,.92)(4.2,.88)
 (5,1.48)(5,1.25)(4.85,.95)(5.1,.93)
 (6,1.0)(5.85,.95)(6,.85)(6,.78)(6.1,.82)
 (6.8,1.03)(7.2,1.02)(7,1.0)(6.85,.97)(7.15,.95)
 (8,1.23)(8,1.18)(7.8,.88)(8.2,.85)(8,.83)(8.1,.9)
 (9,1.24)(9,1.3)(9.1,.77)
 (10,1.25)(9.85,1.18)(10.1,1.13)(9.9,1.1)
 (11,1.13)(10.85,1.02)(11.2,.99)(10.8,.95)(11,.94)
 (13,1.78)(13,1.4)(13.15,.97)(13,.57)
 (14,.95)(13.85,.9)(14,.78)(14,.7)(14,.66)(14.2,.93)
 (15.8,.97)(16,.93)(16.15,.9)(16,.89)
 (16.85,1.12)(17.1,1.08)(16.8,.93)(17.2,.9)(17,.86)
 (19,1.33)(19,1.22)(18.95,.85)(19,.72)
 (20,1.45)(20,1.2)(19.85,1.0)(20.1,.9)(20,.77)(20,.85)};
\end{axis}
\begin{axis}[cax,at={(429pt,-1030pt)},width=238.3pt,height=19pt,xmin=-.63,xmax=20.71,ymin=17,ymax=49,
  axis x line=none,ytick={20,40},yticklabels={20,40}]
\bx{15}{19}{19.5}{20}{21.5}{22}
\bx{18}{31}{33}{35}{37}{42}
\addplot[mm] coordinates {(15.2,21)(14.8,19)(18,31)(17.75,32)(18.2,34)(18.1,33)};
\addplot[ff] coordinates {(15,20)(15.1,22)(14.9,21)(18,42)(17.9,38)(18.1,36)};
\end{axis}
\begin{axis}[cax,at={(429pt,-1009pt)},width=238.3pt,height=29pt,xmin=-.63,xmax=20.71,ymin=1180,ymax=9120,
  axis x line*=top,xtick={0,...,20},ytick={2000,4000},yticklabels={2000,4000}]
\bx{12}{1200}{1200}{1500}{2200}{2800}
\addplot[mm] coordinates {(12,2740)(12.25,1500)(11.85,1300)};
\addplot[ff] coordinates {(12,2800)(11.75,1200)(12,1250)(12.2,1200)};
\end{axis}

\begin{scope}[x=1pt,y=-1pt]
% right edges
\draw[line width=.9pt,black!85] (338.3,975)--(338.3,1151);
\draw[line width=.9pt,black!85] (667.3,980)--(667.3,1156.7);
% breaks in the y axes
\foreach \yy in {1006,1028}{\draw[white,line width=2pt] (100.3,\yy-1.4)--(100.3,\yy+1.4);
  \draw[line width=.7pt,black!85] (97.6,\yy+1)--(103,\yy-2); \draw[line width=.7pt,black!85] (97.6,\yy+3)--(103,\yy);}
\foreach \yy in {1010,1031}{\draw[white,line width=2pt] (429,\yy-1.4)--(429,\yy+1.4);
  \draw[line width=.7pt,black!85] (426.3,\yy+1)--(431.7,\yy-2); \draw[line width=.7pt,black!85] (426.3,\yy+3)--(431.7,\yy);}
% brackets
\foreach \a/\b/\yy in {0/1/1037.7,0/2/1046,3/4/1037.7,3/5/1046,12/13/981,12/14/989.3,15/16/981,15/17/989.3,18/19/981,18/20/989.3}{\brk{107.3}{11.22}{\a}{\b}{\yy}}
\foreach \a/\b/\yy in {0/1/1049.3,0/2/1057.7,3/4/1049.3,3/5/1057.7,12/13/988.3,12/14/996.7,15/16/988.3,15/17/996.7,18/19/988.3,18/20/996.7}{\brk{436}{11.17}{\a}{\b}{\yy}}
% titles and top labels
\T[font=\fs{8.8},text=ctxt]{219}{942}{\Pf{Y2334N/wt}x\Pf{Y2334N/wt} 12 weeks}
\T[font=\fs{8.8},text=ctxt]{549}{942}{\Pf{Δ17/wt}x\Pf{Δ17/wt} 8 weeks}
\Ctop{107.3}{11.22}{968}{N/N}{3,6,9,12,15,18}{N/wt}{wt/wt}
\Ctop{436}{11.17}{973}{Δ17/Δ17}{3,6,9,12,15,18}{Δ17/wt}{wt/wt}
\node[rotate=45,anchor=west,inner sep=0,text=redl,font=\fs{5.4}] at (107.3,968) {\Pf{N/N}};
\node[rotate=45,anchor=west,inner sep=0,text=ctxt,font=\fs{4.8}] at (118.5,968) {\Pf{N/wt}};
\node[rotate=45,anchor=west,inner sep=0,text=ctxt,font=\fs{4.8}] at (129.7,968) {\Pf{wt/wt}};
\node[rotate=45,anchor=west,inner sep=0,text=redl,font=\fs{5}] at (436,973) {\Pf{Δ17/Δ17}};
\node[rotate=45,anchor=west,inner sep=0,text=ctxt,font=\fs{4.8}] at (447.2,973) {\Pf{Δ17/wt}};
\node[rotate=45,anchor=west,inner sep=0,text=ctxt,font=\fs{4.8}] at (458.3,973) {\Pf{wt/wt}};
% y labels
\node[rotate=90,inner sep=0,text=ctxt,font=\fs{8.9}] at (57,1062) {relative mRNA abundance};
\node[rotate=90,inner sep=0,text=ctxt,font=\fs{8.9}] at (68,1062) {in \Pf{Y2334N} animals compared};
\node[rotate=90,inner sep=0,text=ctxt,font=\fs{8.9}] at (78,1062) {to wt littermate};
\node[rotate=90,inner sep=0,text=ctxt,font=\fs{8.9}] at (386,1067) {relative mRNA abundance};
\node[rotate=90,inner sep=0,text=ctxt,font=\fs{8.9}] at (397,1067) {in \Pf{Δ17} animals compared};
\node[rotate=90,inner sep=0,text=ctxt,font=\fs{8.9}] at (407,1067) {to wt littermate};
% sex symbols
\node[inner sep=0,text=male,font=\fs{12}\symfont\bfseries] at (108,1143) {♂};
\node[inner sep=0,text=fem,font=\fs{12}\symfont\bfseries] at (122,1143) {♀};
\node[inner sep=0,text=male,font=\fs{12}\symfont\bfseries] at (437,1148) {♂};
\node[inner sep=0,text=fem,font=\fs{12}\symfont\bfseries] at (451,1148) {♀};
% gene names under the axes
\foreach \xx/\yy/\t in {119/1168/Pcp2,152/1170/Rbfox3,185/1171/Gpr37l1,220/1168/Pvalb,287/1168/Gfap,320/1168/Trem2,
   447/1172/Pcp2,480/1175/Rbfox3,513/1175/Gpr37l1,547/1172/Pvalb,615/1172/Gfap,648/1175/Trem2}{
  \node[rotate=45,inner sep=0,text=ctxt,font=\fs{8.6}\itshape] at (\xx,\yy) {\t};}
\node[rotate=45,inner sep=0,text=ctxt,font=\fs{8.6}\itshape,align=center] at (255,1175) {Itgax\\(CD11c)};
\node[rotate=45,inner sep=0,text=ctxt,font=\fs{8.6}\itshape,align=center] at (582,1178) {Itgax\\(CD11c)};
% cell types
\foreach \xx in {0,329}{
\begin{scope}[xshift=\xx pt]
\foreach \cx/\t in {119/{Purkinje\\neurons},152/{Granule\\neurons},186/{Bergmann\\glia},220/{Inhibitory\\inter\\neurons},253/{Activated\\microglia},287/{Astrocytes},320/{Activated\\microglia}}{
  \node[inner sep=0,text=ctxt,font=\fs{6.2},align=center,anchor=north] at (\cx,1200) {\t};}
\end{scope}}
\end{scope}
\end{tikzpicture}
\end{document}
